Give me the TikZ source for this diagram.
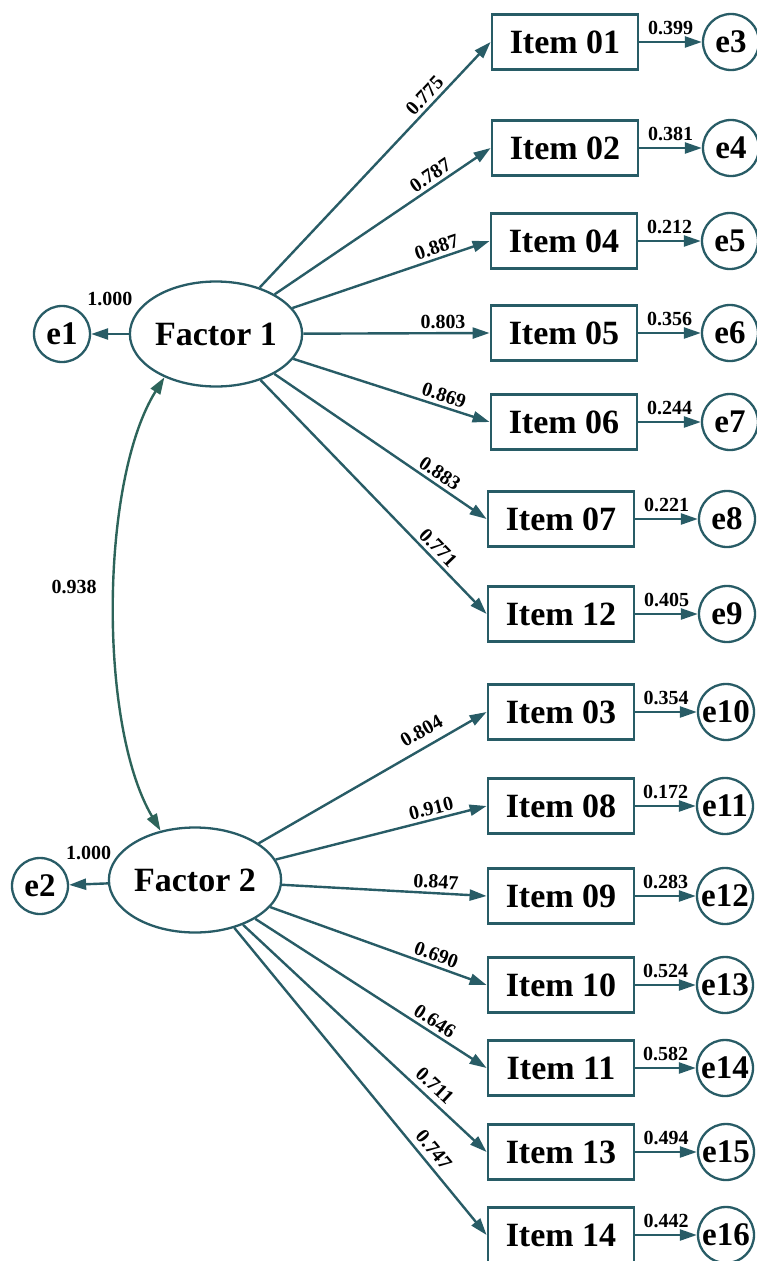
\documentclass[tikz,border=0pt]{standalone}
\usepackage{fontspec}
\setmainfont{Liberation Serif}
\usetikzlibrary{shapes.geometric,arrows.meta}
\definecolor{mysem}{RGB}{40,92,102}
\definecolor{mycov}{RGB}{45,100,90}
\begin{document}
\begin{tikzpicture}[x=1pt,y=-1pt] % one unit = one pixel of the figure
\tikzstyle{myfactor} = [ellipse, draw=mysem, line width=2.3pt, minimum width=166pt, minimum height=105pt, inner sep=0pt, font=\fontsize{34}{34}\selectfont\bfseries] % latent factor style
\tikzstyle{myitem} = [rectangle, draw=mysem, line width=2.8pt, minimum width=146pt, minimum height=55pt, inner sep=0pt, font=\fontsize{34}{34}\selectfont\bfseries] % observed item style
\tikzstyle{myerr} = [circle, draw=mysem, line width=2.3pt, minimum size=56pt, inner sep=0pt, font=\fontsize{33}{33}\selectfont\bfseries] % error term style
\tikzstyle{myarrow} = [-{Triangle[length=17pt,width=11pt]}, draw=mysem, line width=2.4pt] % one-headed path
\tikzstyle{mylabel} = [font=\fontsize{20}{20}\selectfont\bfseries] % coefficients
\useasboundingbox (0,0) rectangle (757,1261);
% factors and their residuals
\node[myfactor] (F1) at (216,334) {Factor 1};
\node[myfactor] (F2) at (195,880) {Factor 2};
\node[myerr] (e1) at (62,334) {e1};
\node[myerr] (e2) at (40,886) {e2};
\draw[myarrow] (F1) -- node[mylabel, above=24pt] {1.000} (e1);
\draw[myarrow] (F2) -- node[mylabel, above=20pt] {1.000} (e2);
\draw[draw=mycov, line width=2.4pt, {Triangle[length=17pt,width=11pt]}-{Triangle[length=17pt,width=11pt]}] (F1.220) .. controls (100,480) and (98,725) .. node[mylabel, pos=0.47, left=14pt] {0.938} (F2.125);
% items of factor 1
\node[myitem] (i01) at (565,42) {Item 01};
\node[myitem] (i02) at (565,148) {Item 02};
\node[myitem] (i04) at (564,241) {Item 04};
\node[myitem] (i05) at (564,333) {Item 05};
\node[myitem] (i06) at (564,422) {Item 06};
\node[myitem] (i07) at (561,519) {Item 07};
\node[myitem] (i12) at (561,614) {Item 12};
% items of factor 2
\node[myitem] (i03) at (561,712) {Item 03};
\node[myitem] (i08) at (561,806) {Item 08};
\node[myitem] (i09) at (561,896) {Item 09};
\node[myitem] (i10) at (561,985) {Item 10};
\node[myitem] (i11) at (561,1068) {Item 11};
\node[myitem] (i13) at (561,1152) {Item 13};
\node[myitem] (i14) at (561,1235) {Item 14};
% error terms of the items
\node[myerr] (e3) at (731,42) {e3};
\node[myerr] (e4) at (731,148) {e4};
\node[myerr] (e5) at (730,241) {e5};
\node[myerr] (e6) at (730,333) {e6};
\node[myerr] (e7) at (730,422) {e7};
\node[myerr] (e8) at (727,519) {e8};
\node[myerr] (e9) at (727,614) {e9};
\node[myerr] (e10) at (726,712) {e10};
\node[myerr] (e11) at (725,806) {e11};
\node[myerr] (e12) at (725,896) {e12};
\node[myerr] (e13) at (725,985) {e13};
\node[myerr] (e14) at (725,1068) {e14};
\node[myerr] (e15) at (726,1152) {e15};
\node[myerr] (e16) at (726,1235) {e16};
% loadings
\draw[myarrow] (F1) -- node[mylabel, pos=0.75, sloped, above] {0.775} (i01.west);
\draw[myarrow] (F1) -- node[mylabel, pos=0.75, sloped, above] {0.787} (i02.west);
\draw[myarrow] (F1) -- node[mylabel, pos=0.75, sloped, above] {0.887} (i04.west);
\draw[myarrow] (F1) -- node[mylabel, pos=0.75, sloped, above] {0.803} (i05.west);
\draw[myarrow] (F1) -- node[mylabel, pos=0.75, sloped, above] {0.869} (i06.west);
\draw[myarrow] (F1) -- node[mylabel, pos=0.75, sloped, above] {0.883} (i07.west);
\draw[myarrow] (F1) -- node[mylabel, pos=0.75, sloped, above] {0.771} (i12.west);
\draw[myarrow] (F2) -- node[mylabel, pos=0.75, sloped, above=5pt] {0.804} (i03.west);
\draw[myarrow] (F2) -- node[mylabel, pos=0.75, sloped, above] {0.910} (i08.west);
\draw[myarrow] (F2) -- node[mylabel, pos=0.75, sloped, above] {0.847} (i09.west);
\draw[myarrow] (F2) -- node[mylabel, pos=0.75, sloped, above] {0.690} (i10.west);
\draw[myarrow] (F2) -- node[mylabel, pos=0.75, sloped, above] {0.646} (i11.west);
\draw[myarrow] (F2) -- node[mylabel, pos=0.75, sloped, above=2pt] {0.711} (i13.west);
\draw[myarrow] (F2) -- node[mylabel, pos=0.75, sloped, above=2pt] {0.747} (i14.west);
% residual paths
\draw[myarrow] (i01) -- node[mylabel, above=3pt] {0.399} (e3);
\draw[myarrow] (i02) -- node[mylabel, above=3pt] {0.381} (e4);
\draw[myarrow] (i04) -- node[mylabel, above=3pt] {0.212} (e5);
\draw[myarrow] (i05) -- node[mylabel, above=3pt] {0.356} (e6);
\draw[myarrow] (i06) -- node[mylabel, above=3pt] {0.244} (e7);
\draw[myarrow] (i07) -- node[mylabel, above=3pt] {0.221} (e8);
\draw[myarrow] (i12) -- node[mylabel, above=3pt] {0.405} (e9);
\draw[myarrow] (i03) -- node[mylabel, above=3pt] {0.354} (e10);
\draw[myarrow] (i08) -- node[mylabel, above=3pt] {0.172} (e11);
\draw[myarrow] (i09) -- node[mylabel, above=3pt] {0.283} (e12);
\draw[myarrow] (i10) -- node[mylabel, above=3pt] {0.524} (e13);
\draw[myarrow] (i11) -- node[mylabel, above=3pt] {0.582} (e14);
\draw[myarrow] (i13) -- node[mylabel, above=3pt] {0.494} (e15);
\draw[myarrow] (i14) -- node[mylabel, above=3pt] {0.442} (e16);
\end{tikzpicture}
\end{document}
